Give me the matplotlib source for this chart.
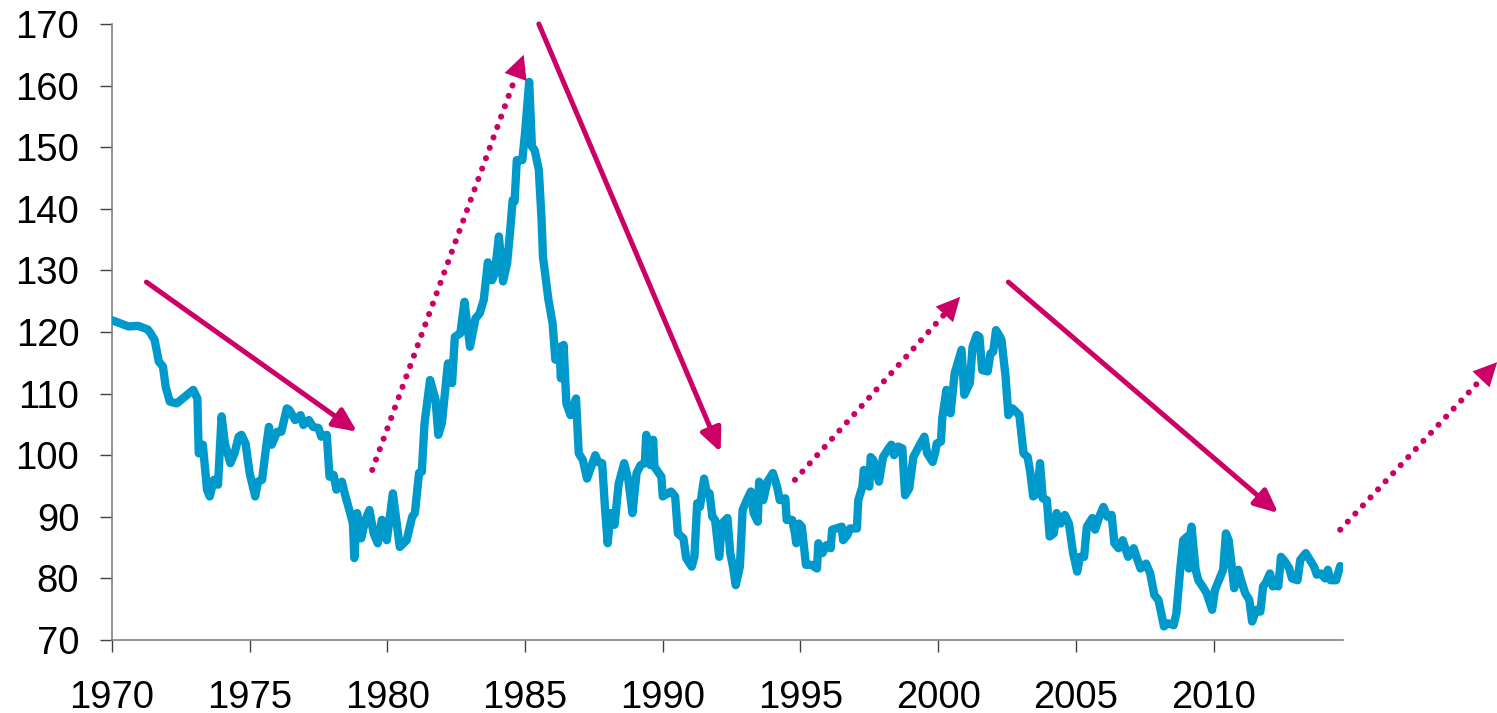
import matplotlib
matplotlib.use("Agg")
import matplotlib.pyplot as plt

plt.rcParams['font.family'] = ['Liberation Sans', 'DejaVu Sans']

BLUE = '#0099cc'
PINK = '#cc0066'

# values (year, index level)
years = [
    1970.0, 1970.6, 1970.95, 1971.3, 1971.4, 1971.55, 1971.7, 1971.85, 1971.95, 1972.1,
    1972.35, 1972.65, 1972.95, 1973.1, 1973.15, 1973.3, 1973.45, 1973.55, 1973.7, 1973.85,
    1973.98, 1974.1, 1974.3, 1974.45, 1974.6, 1974.7, 1974.85, 1975.0, 1975.2, 1975.3,
    1975.45, 1975.6, 1975.7, 1975.8, 1976.0, 1976.15, 1976.35, 1976.45, 1976.65, 1976.85,
    1976.95, 1977.15, 1977.3, 1977.5, 1977.6, 1977.8, 1977.9, 1978.05, 1978.15, 1978.35,
    1978.45, 1978.65, 1978.75, 1978.8, 1978.9, 1979.05, 1979.2, 1979.35, 1979.5, 1979.65,
    1979.8, 1979.98, 1980.2, 1980.45, 1980.7, 1980.9, 1981.0, 1981.15, 1981.25, 1981.35,
    1981.55, 1981.75, 1981.85, 1981.98, 1982.2, 1982.35, 1982.45, 1982.65, 1982.8, 1983.0,
    1983.2, 1983.35, 1983.5, 1983.65, 1983.8, 1983.9, 1984.05, 1984.2, 1984.35, 1984.45,
    1984.55, 1984.62, 1984.7, 1984.9, 1985.0, 1985.15, 1985.25, 1985.35, 1985.5, 1985.6,
    1985.65, 1985.85, 1986.0, 1986.1, 1986.25, 1986.3, 1986.4, 1986.5, 1986.65, 1986.85,
    1986.95, 1987.1, 1987.25, 1987.55, 1987.65, 1987.8, 1987.9, 1988.0, 1988.1, 1988.25,
    1988.4, 1988.6, 1988.75, 1988.9, 1989.05, 1989.2, 1989.35, 1989.4, 1989.55, 1989.65,
    1989.7, 1989.95, 1990.0, 1990.3, 1990.45, 1990.55, 1990.75, 1990.85, 1991.05, 1991.15,
    1991.25, 1991.35, 1991.5, 1991.6, 1991.7, 1991.8, 1991.9, 1992.05, 1992.15, 1992.35,
    1992.45, 1992.55, 1992.65, 1992.8, 1992.9, 1993.05, 1993.2, 1993.3, 1993.45, 1993.5,
    1993.65, 1993.8, 1994.0, 1994.15, 1994.25, 1994.45, 1994.5, 1994.7, 1994.8, 1994.85,
    1994.95, 1995.05, 1995.2, 1995.4, 1995.6, 1995.65, 1995.8, 1995.95, 1996.1, 1996.15,
    1996.3, 1996.5, 1996.55, 1996.7, 1996.8, 1997.05, 1997.1, 1997.25, 1997.3, 1997.5,
    1997.55, 1997.65, 1997.85, 1998.0, 1998.2, 1998.3, 1998.4, 1998.55, 1998.7, 1998.8,
    1998.95, 1999.1, 1999.3, 1999.5, 1999.6, 1999.8, 1999.9, 1999.95, 2000.1, 2000.15,
    2000.3, 2000.45, 2000.6, 2000.85, 2000.95, 2001.15, 2001.25, 2001.4, 2001.5, 2001.6,
    2001.8, 2001.9, 2002.0, 2002.1, 2002.25, 2002.3, 2002.45, 2002.55, 2002.7, 2002.95,
    2003.1, 2003.25, 2003.35, 2003.45, 2003.6, 2003.7, 2003.8, 2003.95, 2004.05, 2004.2,
    2004.3, 2004.45, 2004.6, 2004.75, 2004.9, 2005.05, 2005.15, 2005.3, 2005.4, 2005.6,
    2005.7, 2005.85, 2006.0, 2006.15, 2006.3, 2006.4, 2006.55, 2006.7, 2006.9, 2007.1,
    2007.2, 2007.35, 2007.55, 2007.7, 2007.85, 2008.0, 2008.2, 2008.35, 2008.55, 2008.65,
    2008.8, 2008.9, 2009.05, 2009.1, 2009.15, 2009.2, 2009.35, 2009.45, 2009.6, 2009.75,
    2009.95, 2010.05, 2010.25, 2010.35, 2010.45, 2010.55, 2010.65, 2010.75, 2010.9, 2011.0,
    2011.15, 2011.3, 2011.4, 2011.55, 2011.7, 2011.8, 2011.9, 2012.05, 2012.15, 2012.25,
    2012.35, 2012.45, 2012.6, 2012.75, 2012.85, 2013.05, 2013.15, 2013.35, 2013.5, 2013.65,
    2013.75, 2013.9, 2014.05, 2014.15, 2014.25, 2014.45, 2014.6,
]
values = [
    121.9, 120.9, 121.0, 120.4, 119.8, 118.7, 115.2, 114.4, 111.1, 108.7,
    108.4, 109.5, 110.6, 109.2, 100.3, 101.7, 94.4, 93.3, 96.0, 95.2,
    106.3, 101.9, 98.7, 100.3, 103.0, 103.3, 101.9, 97.1, 93.3, 95.7,
    96.0, 101.4, 104.6, 101.7, 103.8, 103.8, 107.6, 107.3, 105.7, 106.5,
    104.9, 105.7, 104.6, 104.4, 103.0, 103.3, 96.5, 96.8, 94.4, 95.7,
    93.8, 90.6, 88.9, 83.3, 90.6, 86.5, 89.5, 91.1, 87.3, 85.7,
    89.5, 86.2, 93.8, 85.1, 86.2, 90.0, 90.6, 97.1, 97.3, 105.2,
    112.2, 109.0, 103.3, 105.2, 114.9, 111.7, 119.2, 119.8, 124.9, 117.6,
    122.2, 123.0, 125.2, 131.3, 128.4, 129.5, 135.5, 128.2, 131.2, 136.0,
    141.4, 141.2, 147.9, 147.9, 152.3, 160.6, 150.1, 149.5, 146.3, 138.2,
    132.2, 125.2, 121.4, 115.5, 117.6, 112.5, 117.9, 108.4, 106.5, 109.2,
    100.3, 99.2, 96.2, 100.0, 98.9, 98.7, 91.6, 85.7, 90.6, 88.7,
    95.4, 98.7, 96.0, 90.6, 97.1, 98.4, 98.7, 103.3, 98.4, 102.5,
    98.1, 96.5, 93.3, 94.1, 93.3, 87.3, 86.5, 83.3, 81.9, 83.5,
    92.2, 91.6, 96.2, 93.8, 93.8, 90.0, 89.5, 83.5, 88.9, 89.8,
    84.1, 81.9, 78.9, 81.9, 91.1, 92.7, 94.1, 90.6, 89.2, 95.7,
    92.7, 95.7, 97.1, 94.9, 92.7, 93.0, 89.5, 89.5, 87.3, 85.7,
    88.9, 88.4, 82.2, 82.2, 81.6, 85.7, 84.1, 85.4, 84.9, 87.9,
    88.1, 88.4, 86.2, 87.0, 88.1, 88.1, 92.7, 94.9, 97.6, 94.9,
    99.7, 99.2, 95.7, 99.7, 101.1, 101.7, 100.0, 101.4, 101.1, 93.5,
    94.6, 99.7, 101.4, 103.0, 100.3, 98.9, 100.6, 101.9, 102.2, 106.0,
    110.6, 106.8, 113.3, 117.1, 109.8, 111.7, 117.6, 119.5, 119.2, 113.8,
    113.6, 116.5, 116.8, 120.3, 119.2, 118.7, 112.7, 106.5, 107.6, 106.5,
    100.3, 99.7, 97.1, 93.3, 93.8, 98.7, 93.0, 92.7, 86.8, 87.3,
    90.6, 88.9, 90.3, 88.9, 84.1, 81.1, 83.5, 83.5, 88.4, 89.8,
    87.9, 90.0, 91.6, 90.0, 90.3, 85.7, 84.9, 86.2, 83.5, 84.9,
    83.5, 81.6, 82.4, 80.8, 77.3, 76.5, 72.2, 72.7, 72.4, 74.3,
    81.9, 86.2, 86.8, 81.6, 86.8, 88.4, 81.4, 79.7, 78.7, 77.6,
    74.9, 78.1, 80.3, 81.4, 87.3, 86.2, 82.4, 78.4, 81.4, 79.7,
    77.6, 76.5, 73.0, 74.9, 74.6, 78.7, 79.3, 80.8, 78.7, 78.9,
    78.7, 83.5, 82.7, 81.6, 80.0, 79.7, 83.0, 84.1, 83.0, 81.9,
    80.6, 80.8, 80.0, 81.4, 79.7, 79.7, 82.0,
]

# trend arrows: (start year, start level, end year, end level)
solid_arrows = [
    (1971.25, 128.1, 1978.9, 103.8),
    (1985.5, 170.0, 1992.1, 100.5),
    (2002.55, 128.1, 2012.35, 90.6),
]
dotted_arrows = [
    (1979.45, 97.6, 1984.95, 165.0),
    (1994.8, 96.0, 2000.8, 125.7),
    (2014.6, 87.9, 2020.3, 115.1),
]

x_ticks = [1970, 1975, 1980, 1985, 1990, 1995, 2000, 2005, 2010]
y_ticks = [70, 80, 90, 100, 110, 120, 130, 140, 150, 160, 170]

fig = plt.figure(figsize=(14.97, 7.13), dpi=100)
ax = fig.add_axes([0.0748, 0.1024, 0.8223, 0.8640])

ax.plot(years, values, color=BLUE, lw=6, solid_joinstyle='round', solid_capstyle='round', zorder=3)

for x0, y0, x1, y1 in solid_arrows:
    ax.annotate('', xy=(x1, y1), xytext=(x0, y0), annotation_clip=False,
                arrowprops=dict(arrowstyle='-|>,head_length=0.7,head_width=0.32', color=PINK,
                                lw=3.6, shrinkA=0, shrinkB=0, mutation_scale=20))

# dotted shaft plus a filled head on its own
for x0, y0, x1, y1 in dotted_arrows:
    ax.plot([x0, x1 - 0.05 * (x1 - x0)], [y0, y1 - 0.05 * (y1 - y0)], color=PINK, lw=4.4,
            ls=(0, (0.01, 1.8)), dash_capstyle='round', clip_on=False, zorder=4)
    xb, yb = x1 - 0.1 * (x1 - x0), y1 - 0.1 * (y1 - y0)
    ax.annotate('', xy=(x1, y1), xytext=(xb, yb), annotation_clip=False,
                arrowprops=dict(arrowstyle='-|>,head_length=0.85,head_width=0.42', color=PINK,
                                lw=0, shrinkA=0, shrinkB=0, mutation_scale=20))

ax.set_xlim(1970, 2014.7)
ax.set_ylim(70, 170)
ax.set_xticks(x_ticks)
ax.set_yticks(y_ticks)

for s in ['top', 'right']:
    ax.spines[s].set_visible(False)
for s in ['left', 'bottom']:
    ax.spines[s].set_color('#808080')
    ax.spines[s].set_linewidth(1.2)

ax.tick_params(axis='both', direction='out', length=8.5, width=1.0, color='#404040',
               labelsize=27.5, labelcolor='black')
ax.tick_params(axis='y', pad=15)
ax.tick_params(axis='x', pad=20)

fig.savefig('out.png', dpi=100)
